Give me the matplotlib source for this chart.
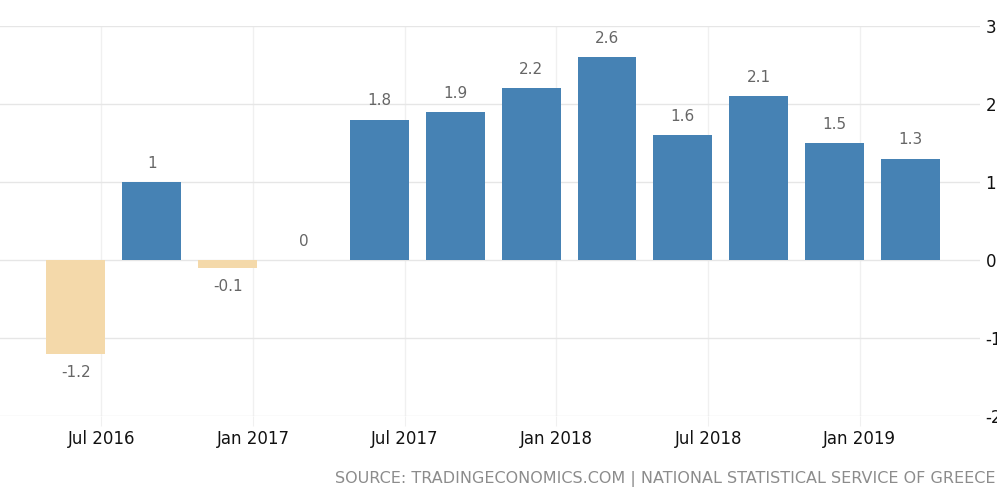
import matplotlib
matplotlib.use("Agg")
import matplotlib.pyplot as plt
import numpy as np

# quarter-end month index, Jul 2016 = 0
months = [-1, 2, 5, 8, 11, 14, 17, 20, 23, 26, 29, 32]
values = [-1.2, 1.0, -0.1, 0.0, 1.8, 1.9, 2.2, 2.6, 1.6, 2.1, 1.5, 1.3]
labels = ["-1.2", "1", "-0.1", "0", "1.8", "1.9", "2.2", "2.6", "1.6", "2.1", "1.5", "1.3"]
tick_pos = [0, 6, 12, 18, 24, 30]
tick_labels = ["Jul 2016", "Jan 2017", "Jul 2017", "Jan 2018", "Jul 2018", "Jan 2019"]
yticks = [-2, -1, 0, 1, 2, 3]

fig = plt.figure(figsize=(9.97, 4.95), dpi=100)
ax = fig.add_axes([0, 79 / 495, 980 / 997, 390 / 495])

colors = ["#4682b4" if v >= 0 else "#f4d9aa" for v in values]
ax.bar(months, values, width=2.33, color=colors, zorder=2)

for m, v, lab in zip(months, values, labels):
    off = 13.5 if v >= 0 else -13.5
    ax.annotate(lab, (m, v), xytext=(0, off), textcoords="offset points",
                ha="center", va="center", fontsize=11, color="#666666")

ax.set_xlim(-4, 34.75)
ax.set_ylim(-2, 3)
ax.set_xticks(tick_pos)
ax.set_xticklabels(tick_labels, fontsize=12, color="#111111")
ax.set_yticks(yticks)
ax.set_yticklabels([str(t) for t in yticks], fontsize=12, color="#111111")
ax.yaxis.tick_right()
ax.tick_params(axis="y", length=0, pad=4)
ax.tick_params(axis="x", length=7, color="#f0f0f0", pad=3)
ax.grid(True, axis="y", color="#e6e6e6", linewidth=1, zorder=0)
ax.grid(True, axis="x", color="#f0f0f0", linewidth=1, zorder=0)
for s in ax.spines.values():
    s.set_visible(False)

fig.text(995 / 997, 1 - 479 / 495,
         "SOURCE: TRADINGECONOMICS.COM | NATIONAL STATISTICAL SERVICE OF GREECE",
         ha="right", va="center", fontsize=11.5, color="#8c8c8c")

fig.savefig("out.png", dpi=100)
